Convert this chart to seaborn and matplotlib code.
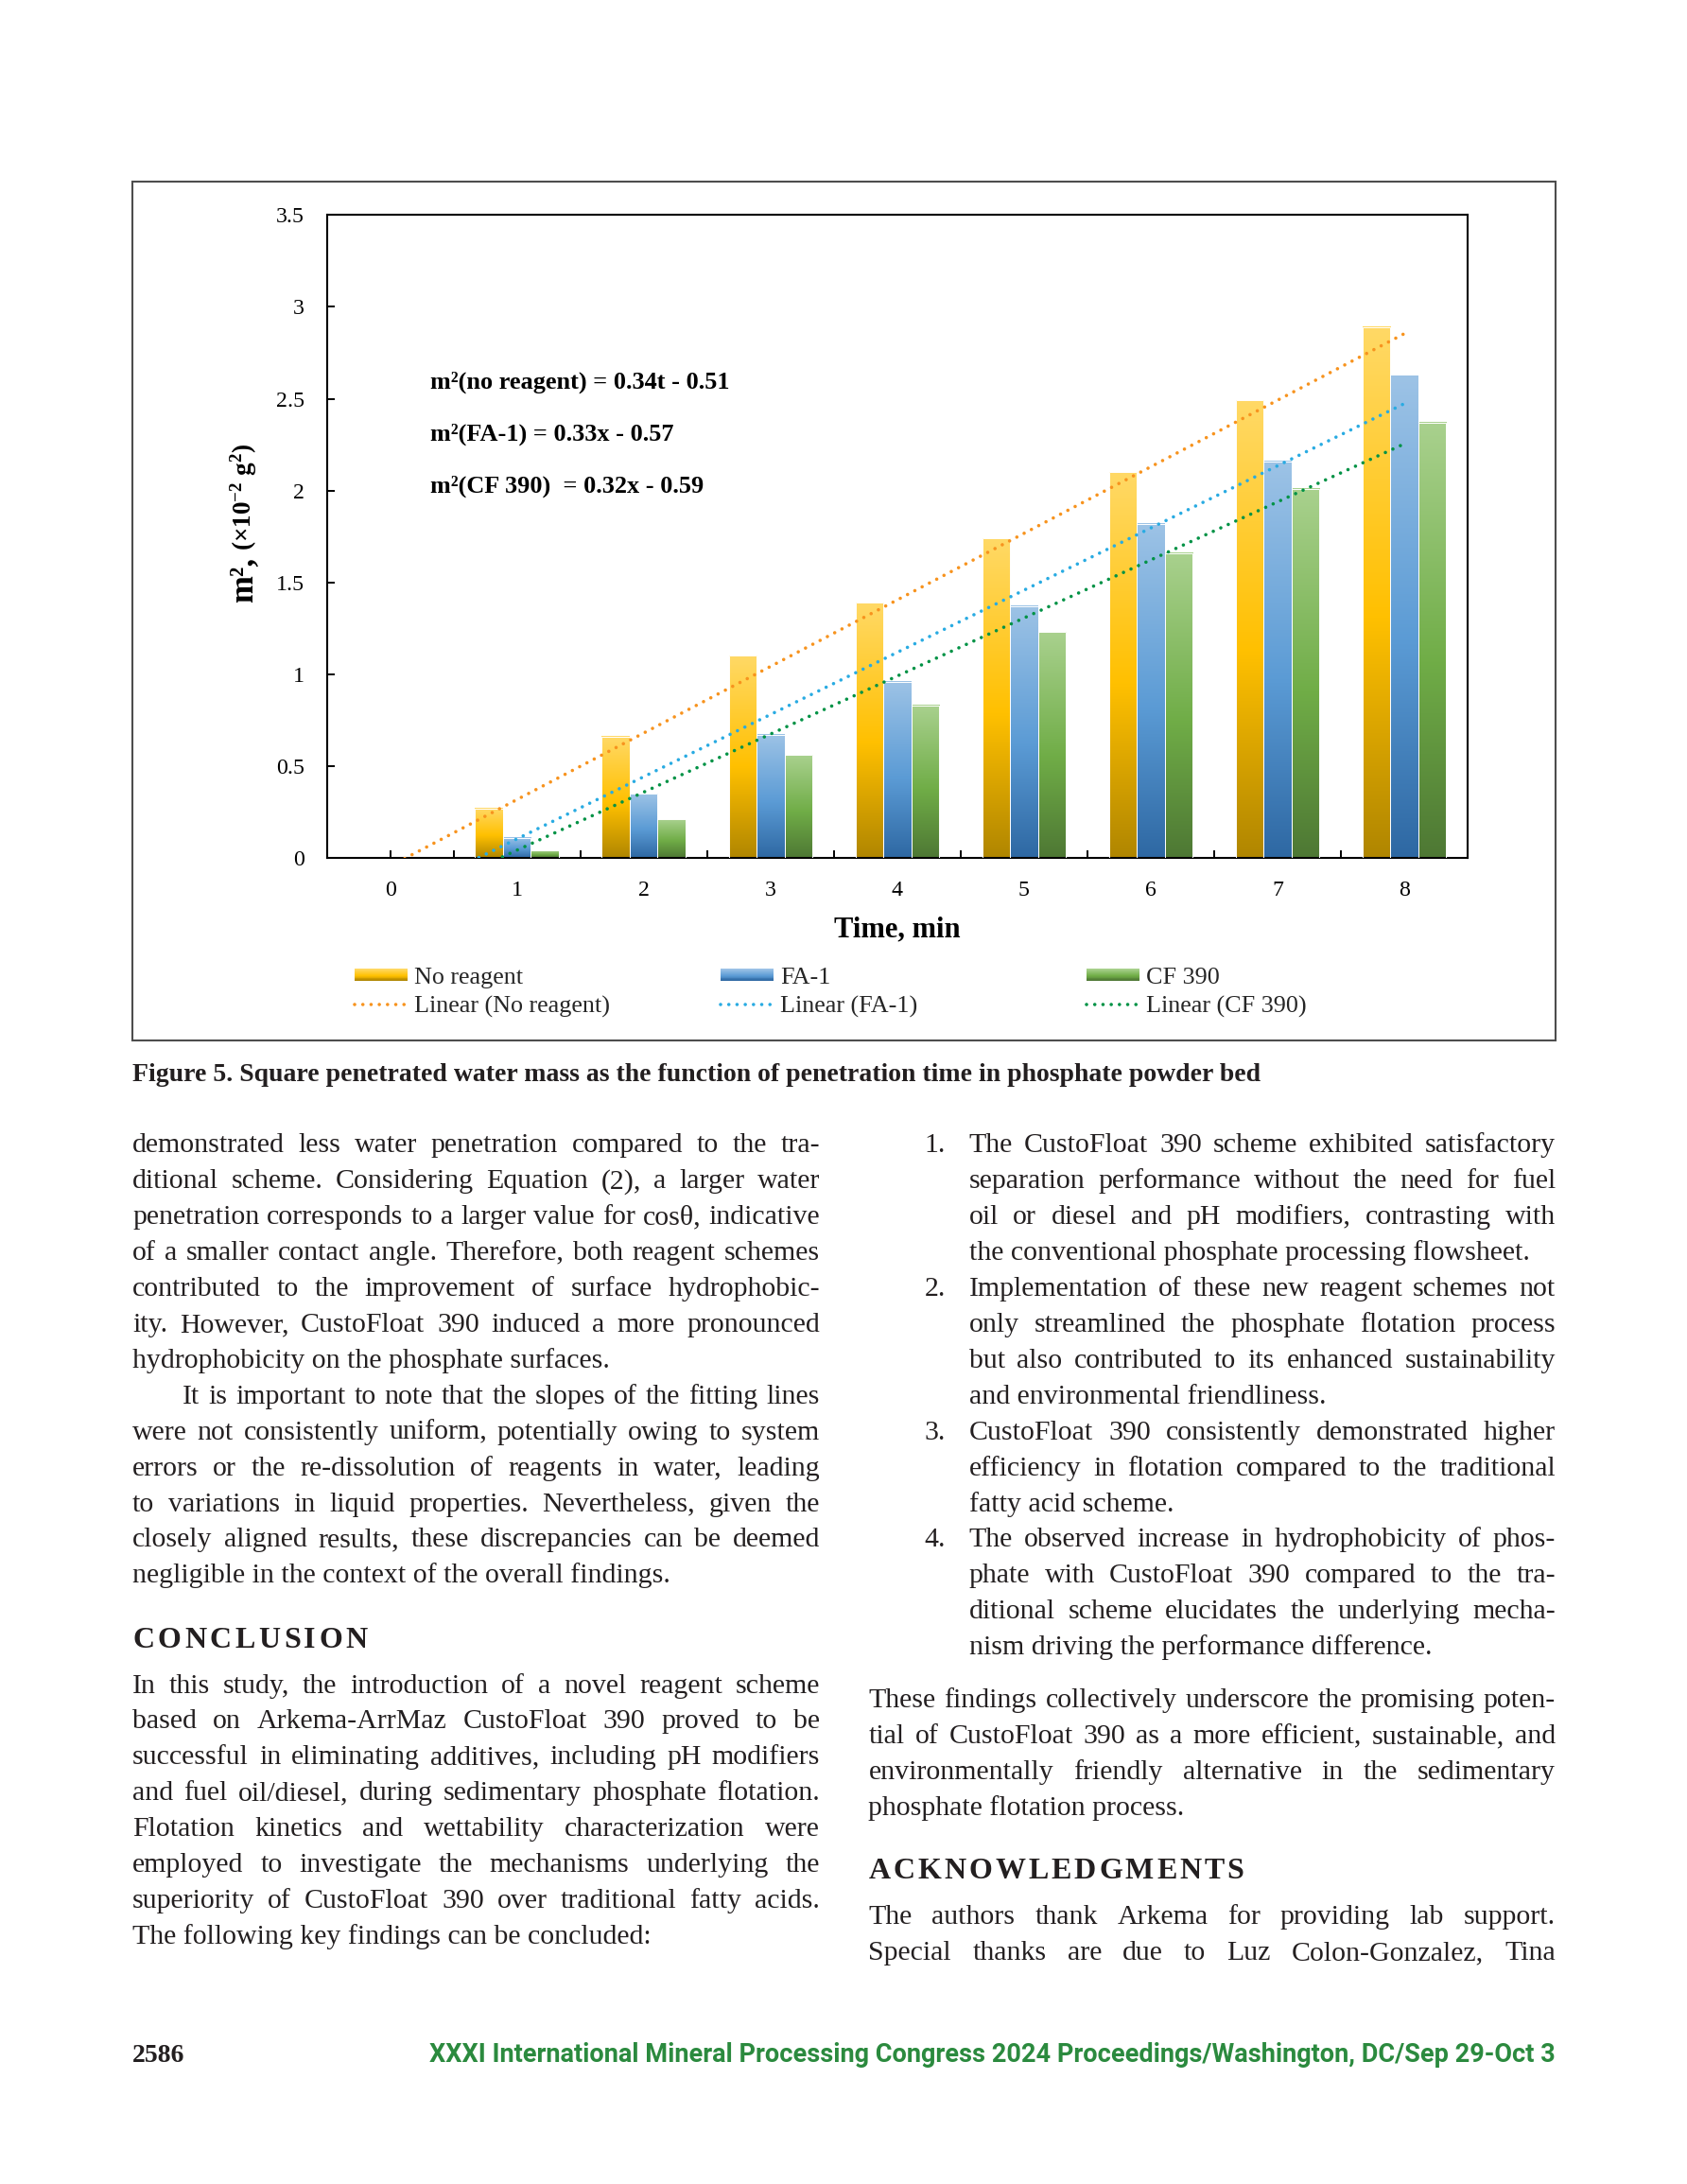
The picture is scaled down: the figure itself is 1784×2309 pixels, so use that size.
import numpy as np
import pandas as pd
import matplotlib
matplotlib.use("Agg")
import matplotlib.pyplot as plt
import matplotlib.colors as mcolors
import seaborn as sns
from matplotlib.patches import Rectangle, Patch
from matplotlib.legend_handler import HandlerBase
from matplotlib.ticker import FuncFormatter

sns.set_theme(style="white")
plt.rcParams['font.family'] = ['Liberation Serif', 'DejaVu Serif']
plt.rcParams['mathtext.fontset'] = 'custom'
plt.rcParams['mathtext.rm'] = 'Liberation Serif'
plt.rcParams['mathtext.bf'] = 'Liberation Serif:bold'
plt.rcParams['mathtext.it'] = 'Liberation Serif:italic'

# ---- chart data ----
times = [0, 1, 2, 3, 4, 5, 6, 7, 8]
no_reagent = [0, 0.27, 0.66, 1.10, 1.39, 1.74, 2.10, 2.49, 2.89]
fa1 = [0, 0.11, 0.35, 0.67, 0.96, 1.37, 1.82, 2.16, 2.63]
cf390 = [0, 0.04, 0.21, 0.56, 0.83, 1.23, 1.66, 2.01, 2.37]
series = ["No reagent", "FA-1", "CF 390"]
equations = ["m²(no reagent) = 0.34t - 0.51",
             "m²(FA-1) = 0.33x - 0.57",
             "m²(CF 390)  = 0.32x - 0.59"]
y_ticks = [0, 0.5, 1, 1.5, 2, 2.5, 3, 3.5]

mid_col = {"No reagent": "#FFC000", "FA-1": "#5B9BD5", "CF 390": "#70AD47"}
grad_stops = {"No reagent": ("#FFD966", "#FFC000", "#B08600"),
              "FA-1": ("#9DC3E6", "#5B9BD5", "#2E68A3"),
              "CF 390": ("#A9D18E", "#70AD47", "#4E7834")}
trend_col = {"No reagent": "#F7931E", "FA-1": "#29ABE2", "CF 390": "#009245"}

W, H = 1784, 2309
TXT = "#231f20"


def fx(x):
    return x / W


def fy(y):
    return 1 - y / H


def gradient(stops, n=200):
    c = np.array([mcolors.to_rgb(s) for s in stops])
    pos = np.linspace(0, 1, n)
    return np.stack([np.interp(pos, [0, 0.55, 1], c[:, k]) for k in range(3)], axis=1)


fig = plt.figure(figsize=(W / 100, H / 100), dpi=100)
renderer = fig.canvas.get_renderer()
ax = fig.add_axes([fx(345.6), fy(907), (1552 - 345.6) / W, (907 - 227.3) / H])

df = pd.DataFrame({
    "time": [str(t) for t in times] * 3,
    "m2": no_reagent + fa1 + cf390,
    "series": np.repeat(series, len(times)),
})
sns.barplot(data=df, x="time", y="m2", hue="series", order=[str(t) for t in times],
            hue_order=series, palette=mid_col, saturation=1, width=0.66,
            errorbar=None, legend=False, ax=ax)

# gradient fill for every bar
for p in ax.patches:
    fc = p.get_facecolor()[:3]
    s = [k for k in series if np.allclose(fc, mcolors.to_rgb(mid_col[k]), atol=0.01)]
    h = p.get_height()
    if not s or h <= 0:
        p.set_visible(False)
        continue
    g = gradient(grad_stops[s[0]])
    x0 = p.get_x()
    ax.imshow(g[:, None, :], extent=(x0, x0 + p.get_width(), 0, h), aspect="auto",
              origin="upper", interpolation="bilinear", zorder=2)
    p.set_facecolor("none")
    p.set_edgecolor("white")
    p.set_linewidth(0.7)
    p.set_zorder(3)

# linear trend lines
lines = {}
for s, vals in zip(series, [no_reagent, fa1, cf390]):
    k, b = np.polyfit(times, vals, 1)
    tl = np.array([times[0], times[-1]], dtype=float)
    ln, = ax.plot(tl, k * tl + b, color=trend_col[s], lw=2.6, ls=(0, (0.01, 2.4)),
                  dash_capstyle="round", zorder=5)
    lines[s] = ln

for i, eq in enumerate(equations):
    ax.text(0.315, 2.589 - i * 0.283, eq, fontsize=18.9, fontweight="bold",
            va="center", ha="left", color="black")

ax.set_xlim(-0.5, 8.5)
ax.set_ylim(0, 3.5)
ax.set_xticks(range(len(times)))
ax.set_xticklabels([str(t) for t in times])
ax.set_xticks(np.arange(0.5, 8, 1), minor=True)
ax.set_yticks(y_ticks)
ax.yaxis.set_major_formatter(FuncFormatter(lambda v, _: f"{v:g}"))
ax.tick_params(axis="both", which="both", direction="in", length=5.8, width=1.4,
               colors="black", labelsize=17.2, pad=17, bottom=True, left=True)
ax.tick_params(axis="x", which="minor", bottom=True)
for sp in ax.spines.values():
    sp.set_visible(True)
    sp.set_color("black")
    sp.set_linewidth(1.5)
ax.set_ylabel("")
ax.set_xlabel("Time, min", fontsize=22, fontweight="bold", labelpad=12, color="black")

# y label in two sizes
ya = fig.text(fx(266), fy(637), "m²,", rotation=90, rotation_mode="anchor",
              ha="left", va="baseline", fontsize=25, fontweight="bold", color="black")
hA = ya.get_window_extent(renderer).height
fig.text(fx(266), fy(637 - hA - 7), r"(×10$^{\mathbf{-2}}$ g$^{\mathbf{2}}$)", rotation=90,
         rotation_mode="anchor", ha="left", va="baseline", fontsize=19.5,
         fontweight="bold", color="black")


class GradHandler(HandlerBase):
    def __init__(self, cols):
        super().__init__()
        self.cols = cols

    def create_artists(self, legend, orig_handle, xdescent, ydescent, width, height,
                       fontsize, trans):
        n = len(self.cols)
        hh = height * 0.72
        y0 = -ydescent + (height - hh) / 2
        out = []
        for i, c in enumerate(self.cols):
            out.append(Rectangle((-xdescent, y0 + hh * (n - 1 - i) / n), width, hh / n * 1.05,
                                 facecolor=c, edgecolor="none", transform=trans))
        return out


leg_x = [375, 762, 1149]
for s, lx in zip(series, leg_x):
    proxy = Patch()
    cols = gradient(grad_stops[s], 14)
    fig.legend(handles=[proxy, lines[s]], labels=[s, f"Linear ({s})"], loc="center left",
               bbox_to_anchor=(fx(lx), fy(1049)), bbox_transform=fig.transFigure,
               frameon=False, fontsize=18.8, handlelength=2.15, handletextpad=0.27,
               labelspacing=0.3, borderpad=0, borderaxespad=0,
               handler_map={proxy: GradHandler(cols)})

# chart area border
fig.add_artist(Rectangle((fx(140), fy(1100)), (1645 - 140) / W, (1100 - 192) / H,
                         transform=fig.transFigure, fill=False, edgecolor="#4d4d4d", lw=1.5))

# ---- page text ----
cap = fig.text(fx(140), fy(1143), "Figure 5. Square penetrated water mass as the function of "
               "penetration time in phosphate powder bed", fontsize=20, fontweight="bold",
               color=TXT, ha="left", va="baseline")
cap.set_fontsize(20 * 1194 / cap.get_window_extent(renderer).width)

BODY = 21.5


def spread(tokens, x0, x1, base, size, weight="normal", min_gap=0.13):
    arts = [fig.text(0, fy(base), t, fontsize=size, fontweight=weight, color=TXT,
                     ha="left", va="baseline") for t in tokens]
    widths = [a.get_window_extent(renderer).width for a in arts]
    gap = (x1 - x0 - sum(widths)) / (len(tokens) - 1)
    while gap < min_gap * size * 100 / 72:
        size -= 0.2
        for a in arts:
            a.set_fontsize(size)
        widths = [a.get_window_extent(renderer).width for a in arts]
        gap = (x1 - x0 - sum(widths)) / (len(tokens) - 1)
    x = x0
    for a, w in zip(arts, widths):
        a.set_x(fx(x))
        x += w + gap


def line(s, x0, x1, base, justify=True):
    if justify:
        spread(s.split(), x0, x1, base, BODY)
    else:
        fig.text(fx(x0), fy(base), s, fontsize=BODY, color=TXT, ha="left", va="baseline")


STEP = 37.9
left_a = [
    ("demonstrated less water penetration compared to the tra-", True, 0),
    ("ditional scheme. Considering Equation (2), a larger water", True, 0),
    ("penetration corresponds to a larger value for cosθ, indicative", True, 0),
    ("of a smaller contact angle. Therefore, both reagent schemes", True, 0),
    ("contributed to the improvement of surface hydrophobic-", True, 0),
    ("ity. However, CustoFloat 390 induced a more pronounced", True, 0),
    ("hydrophobicity on the phosphate surfaces.", False, 0),
    ("It is important to note that the slopes of the fitting lines", True, 53),
    ("were not consistently uniform, potentially owing to system", True, 0),
    ("errors or the re-dissolution of reagents in water, leading", True, 0),
    ("to variations in liquid properties. Nevertheless, given the", True, 0),
    ("closely aligned results, these discrepancies can be deemed", True, 0),
    ("negligible in the context of the overall findings.", False, 0),
]
left_b = [
    ("In this study, the introduction of a novel reagent scheme", True),
    ("based on Arkema-ArrMaz CustoFloat 390 proved to be", True),
    ("successful in eliminating additives, including pH modifiers", True),
    ("and fuel oil/diesel, during sedimentary phosphate flotation.", True),
    ("Flotation kinetics and wettability characterization were", True),
    ("employed to investigate the mechanisms underlying the", True),
    ("superiority of CustoFloat 390 over traditional fatty acids.", True),
    ("The following key findings can be concluded:", False),
]
items = [
    ["The CustoFloat 390 scheme exhibited satisfactory",
     "separation performance without the need for fuel",
     "oil or diesel and pH modifiers, contrasting with",
     "the conventional phosphate processing flowsheet."],
    ["Implementation of these new reagent schemes not",
     "only streamlined the phosphate flotation process",
     "but also contributed to its enhanced sustainability",
     "and environmental friendliness."],
    ["CustoFloat 390 consistently demonstrated higher",
     "efficiency in flotation compared to the traditional",
     "fatty acid scheme."],
    ["The observed increase in hydrophobicity of phos-",
     "phate with CustoFloat 390 compared to the tra-",
     "ditional scheme elucidates the underlying mecha-",
     "nism driving the performance difference."],
]
right_b = [
    ("These findings collectively underscore the promising poten-", True),
    ("tial of CustoFloat 390 as a more efficient, sustainable, and", True),
    ("environmentally friendly alternative in the sedimentary", True),
    ("phosphate flotation process.", False),
]
right_c = [
    ("The authors thank Arkema for providing lab support.", True),
    ("Special thanks are due to Luz Colon-Gonzalez, Tina", True),
]

LX0, LX1 = 140, 867
RX0, RX1 = 918.5, 1645
BASE0 = 1218.5

for i, (s, j, ind) in enumerate(left_a):
    line(s, LX0 + ind, LX1, BASE0 + i * STEP, j)
spread(list("CONCLUSION"), LX0, 389, 1742.4, 23, "bold", min_gap=0)
for i, (s, j) in enumerate(left_b):
    line(s, LX0, LX1, 1789.5 + i * STEP, j)

k = 0
for n, it in enumerate(items):
    for m, s in enumerate(it):
        b = BASE0 + k * STEP
        if m == 0:
            fig.text(fx(977.5), fy(b), f"{n + 1}.", fontsize=BODY, color=TXT, va="baseline")
        line(s, 1024.7, RX1, b, m < len(it) - 1)
        k += 1
for i, (s, j) in enumerate(right_b):
    line(s, RX0, RX1, 1805 + i * STEP, j)
spread(list("ACKNOWLEDGMENTS"), RX0, 1315.5, 1985.5, 23, "bold", min_gap=0)
for i, (s, j) in enumerate(right_c):
    line(s, RX0, RX1, 2034 + i * STEP, j)

fig.text(fx(140), fy(2180), "2586", fontsize=20, fontweight="bold", color=TXT, va="baseline")
ft = fig.text(fx(1645), fy(2180), "XXXI International Mineral Processing Congress 2024 "
              "Proceedings/Washington, DC/Sep 29-Oct 3", family=["Roboto", "DejaVu Sans"],
              fontweight="bold", fontsize=16, color="#2b8a3e", ha="right", va="baseline")
ft.set_fontsize(16 * 1192 / ft.get_window_extent(renderer).width)

fig.savefig("out.png", dpi=100)
